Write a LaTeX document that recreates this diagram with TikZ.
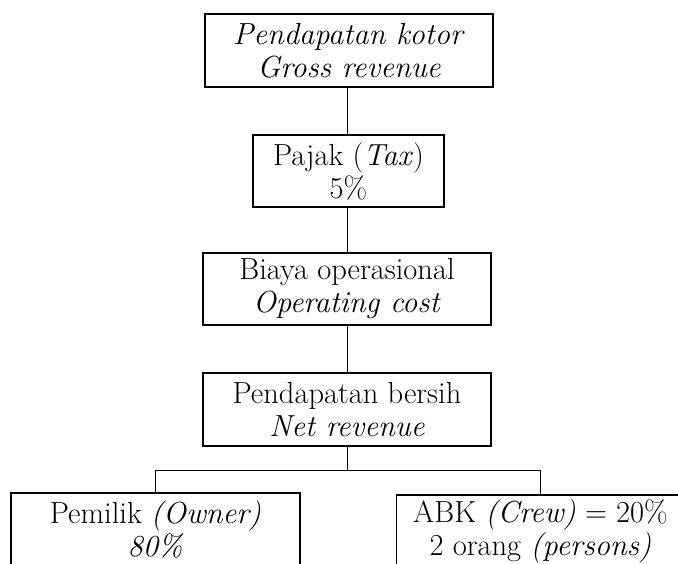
\documentclass[tikz,border=0pt]{standalone}
\begin{document}
\begin{tikzpicture}[x=1pt,y=-1pt,
  box/.style={draw, line width=1.3pt, minimum height=73pt, inner sep=0pt, align=center,
    font=\fontsize{30.5}{33}\selectfont},
  wide/.style={box, minimum width=288pt},
  narrow/.style={box, minimum width=191pt},
  conn/.style={line width=1.3pt}]
\useasboundingbox (0,0) rectangle (678,563);
\clip (0,0) rectangle (678,563);
\node[wide] (gross) at (349,50.5) {\textit{Pendapatan kotor}\\\textit{Gross revenue}};
\node[narrow,minimum height=72pt] (tax) at (348.5,171) {Pajak (\textit{Tax})\\5\%};
\node[wide,minimum height=72pt] (cost) at (347,289) {Biaya operasional\\\textit{Operating cost}};
\node[wide] (net) at (347,409.5) {Pendapatan bersih\\\textit{Net revenue}};
\node[wide,minimum width=289pt] (owner) at (155.5,529.5) {Pemilik \textit{(Owner)}\\\textit{80\%}};
\node[wide] (crew) at (540.5,531.5) {ABK \textit{(Crew)} = 20\%\\2 orang \textit{(persons)}};
\coordinate (j) at (347.5,470.5);
\draw[conn] (gross.south -| j) -- (tax.north -| j);
\draw[conn] (tax.south -| j) -- (cost.north -| j);
\draw[conn] (cost.south -| j) -- (net.north -| j);
\draw[conn] (net.south -| j) -- (j);
\draw[conn] (owner.north) |- (j) -| (crew.north);
\end{tikzpicture}
\end{document}
